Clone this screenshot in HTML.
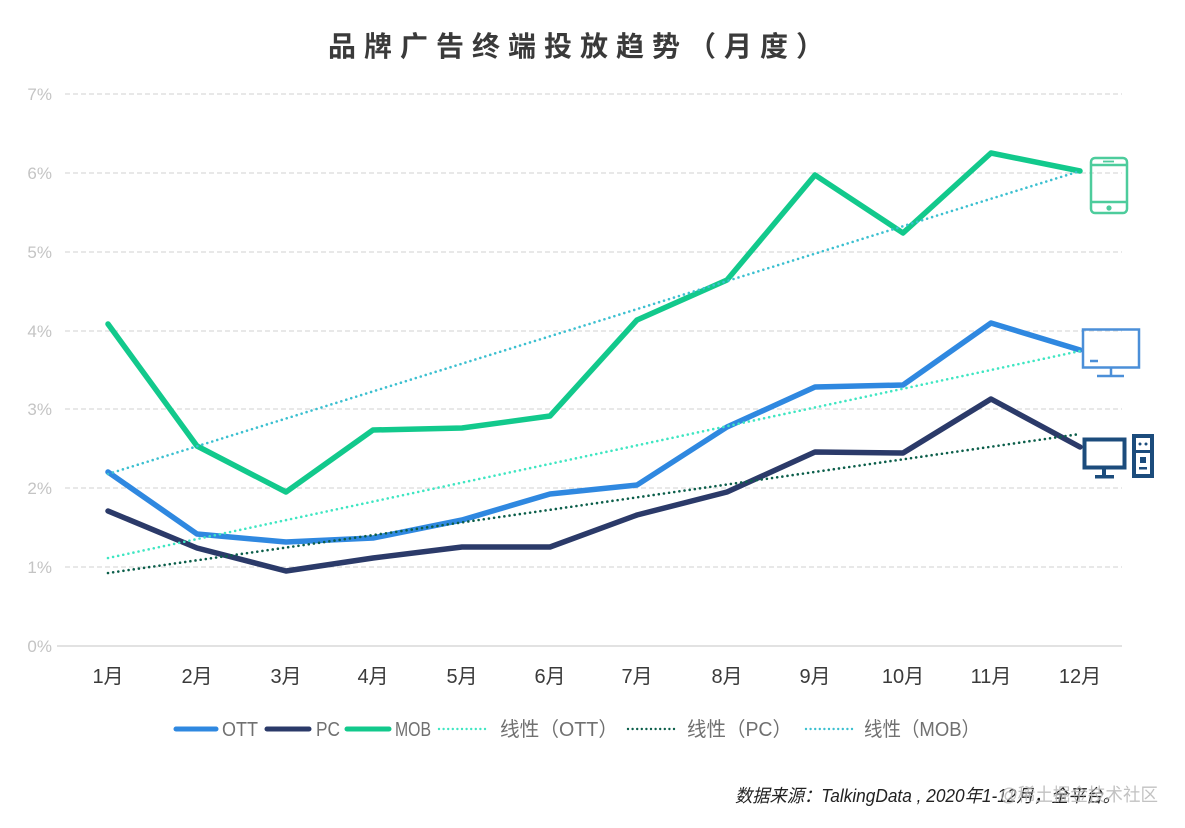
<!DOCTYPE html>
<html>
<head>
<meta charset="utf-8">
<style>
html,body{margin:0;padding:0;background:#fff;}
svg{display:block;}
text{font-family:"Liberation Sans","Noto Sans CJK SC",sans-serif;}
</style>
</head>
<body>
<svg width="1185" height="828" viewBox="0 0 1185 828" xmlns="http://www.w3.org/2000/svg">
<rect width="1185" height="828" fill="#fff"/>
<!-- Title -->
<text x="328" y="56" font-size="28" font-weight="bold" fill="#3a3a3a" letter-spacing="8" style="font-family:'Noto Sans CJK SC',sans-serif">品牌广告终端投放趋势（月度）</text>

<!-- Grid -->
<g stroke="#d9d9d9" stroke-width="1.3" stroke-dasharray="5 3">
<line x1="65" y1="94" x2="1122" y2="94"/>
<line x1="65" y1="173" x2="1122" y2="173"/>
<line x1="65" y1="252" x2="1122" y2="252"/>
<line x1="65" y1="331" x2="1122" y2="331"/>
<line x1="65" y1="409" x2="1122" y2="409"/>
<line x1="65" y1="488" x2="1122" y2="488"/>
<line x1="65" y1="567" x2="1122" y2="567"/>
</g>
<line x1="57" y1="646" x2="1122" y2="646" stroke="#d9d9d9" stroke-width="1.5"/>

<!-- Y labels -->
<g font-size="17" fill="#c4c4c4" text-anchor="end">
<text x="52" y="100">7%</text>
<text x="52" y="179">6%</text>
<text x="52" y="258">5%</text>
<text x="52" y="337">4%</text>
<text x="52" y="415">3%</text>
<text x="52" y="494">2%</text>
<text x="52" y="573">1%</text>
<text x="52" y="652">0%</text>
</g>

<!-- X labels -->
<g font-size="20" fill="#3a3a3a" text-anchor="middle">
<text x="108" y="683">1月</text>
<text x="197" y="683">2月</text>
<text x="286" y="683">3月</text>
<text x="373" y="683">4月</text>
<text x="462" y="683">5月</text>
<text x="550" y="683">6月</text>
<text x="637" y="683">7月</text>
<text x="727" y="683">8月</text>
<text x="815" y="683">9月</text>
<text x="903" y="683">10月</text>
<text x="991" y="683">11月</text>
<text x="1080" y="683">12月</text>
</g>

<!-- Series -->
<g fill="none" stroke-linejoin="round" stroke-linecap="round" stroke-width="5.5">
<polyline stroke="#12c98c" points="108,324 197,446 286,492 373,430 462,428 550,416 637,320 727,280 815,175 903,233 991,153 1080,171"/>
<polyline stroke="#2f88e0" points="108,472 197,534 286,542 373,538 462,520 550,494 637,485 727,427 815,387 903,385 991,323 1080,350"/>
<polyline stroke="#2b3a69" points="108,511 197,548 286,571 373,558 462,547 550,547 637,515 727,492 815,452 903,453 991,399 1080,447"/>
</g>

<!-- Trend lines -->
<g fill="none" stroke-linecap="round" stroke-width="2.6" stroke-dasharray="0 5.2">
<line x1="108" y1="474" x2="1080" y2="171" stroke="#3cc0d0"/>
<line x1="108" y1="558" x2="1080" y2="351" stroke="#3fe6c2"/>
<line x1="108" y1="573" x2="1080" y2="434" stroke="#0b5e4a"/>
</g>

<!-- Phone icon -->
<g fill="none" stroke="#4dcc9c" stroke-width="2.5">
<rect x="1091" y="158" width="36" height="55" rx="4"/>
<line x1="1091" y1="165" x2="1127" y2="165"/>
<line x1="1091" y1="202" x2="1127" y2="202"/>
<line x1="1103" y1="161.5" x2="1114" y2="161.5" stroke-width="1.8"/>
</g>
<circle cx="1109" cy="208" r="2.6" fill="#4dcc9c"/>

<!-- OTT monitor icon -->
<g fill="none" stroke="#4b8fd8" stroke-width="2.5">
<rect x="1083" y="329.5" width="56" height="38"/>
<line x1="1111" y1="368" x2="1111" y2="376"/>
<line x1="1097" y1="376" x2="1124" y2="376"/>
<line x1="1090" y1="361" x2="1098" y2="361"/>
</g>

<!-- PC icon -->
<g>
<rect x="1084.5" y="439.5" width="40" height="28" fill="none" stroke="#1c4c7c" stroke-width="4"/>
<rect x="1102" y="469" width="4" height="7" fill="#1c4c7c"/>
<rect x="1095" y="475" width="19" height="3.5" fill="#1c4c7c"/>
<rect x="1132" y="434" width="22" height="44" fill="#1c4c7c"/>
<rect x="1136" y="438" width="14" height="12" fill="#fff"/>
<circle cx="1140" cy="444" r="1.5" fill="#1c4c7c"/>
<circle cx="1146" cy="444" r="1.5" fill="#1c4c7c"/>
<rect x="1136" y="453" width="14" height="21" fill="#fff"/>
<rect x="1140" y="457" width="6" height="6" fill="#1c4c7c"/>
<rect x="1139" y="467" width="8" height="2.5" fill="#1c4c7c"/>
</g>

<!-- Legend -->
<g stroke-linecap="round">
<line x1="176" y1="729" x2="216" y2="729" stroke="#2f88e0" stroke-width="5"/>
<line x1="267" y1="729" x2="309" y2="729" stroke="#2b3a69" stroke-width="5"/>
<line x1="347" y1="729" x2="389" y2="729" stroke="#12c98c" stroke-width="5"/>
<line x1="439" y1="729" x2="489" y2="729" stroke="#3fe6c2" stroke-width="2.4" stroke-dasharray="0 4.6"/>
<line x1="628" y1="729" x2="677" y2="729" stroke="#0b5e4a" stroke-width="2.4" stroke-dasharray="0 4.6"/>
<line x1="806" y1="729" x2="854" y2="729" stroke="#3cc0d0" stroke-width="2.4" stroke-dasharray="0 4.6"/>
</g>
<g font-size="20" fill="#707070">
<text x="222" y="736" textLength="36" lengthAdjust="spacingAndGlyphs">OTT</text>
<text x="316" y="736" textLength="24" lengthAdjust="spacingAndGlyphs">PC</text>
<text x="395" y="736" textLength="36" lengthAdjust="spacingAndGlyphs">MOB</text>
<text x="500" y="736" textLength="118" lengthAdjust="spacingAndGlyphs">线性（OTT）</text>
<text x="687" y="736" textLength="105" lengthAdjust="spacingAndGlyphs">线性（PC）</text>
<text x="864" y="736" textLength="116" lengthAdjust="spacingAndGlyphs">线性（MOB）</text>
</g>

<!-- Source -->
<text x="735" y="802" font-size="18" font-style="italic" fill="#222" textLength="385" lengthAdjust="spacingAndGlyphs">数据来源：TalkingData , 2020年1-12月，全平台。</text>
<text x="1000" y="801" font-size="18" fill="#b8b8b8" opacity="0.85" textLength="158" lengthAdjust="spacingAndGlyphs">@稀土掘金技术社区</text>
</svg>
</body>
</html>
